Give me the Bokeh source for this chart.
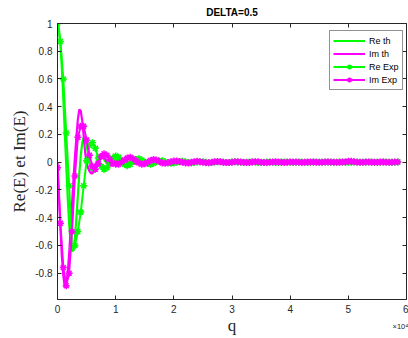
import numpy as np
from bokeh.plotting import figure
from bokeh.models import (LinearAxis, Range1d, FixedTicker, Legend, LegendItem,
                          Label, CustomJSTickFormatter)
from bokeh.embed import file_html
from bokeh.resources import INLINE

# ---------------- data ----------------
q_th = list(range(0, 10001, 250)) + list(range(10500, 20001, 500)) + list(range(21000, 58001, 1000))
re_th = [1.0, 0.96, 0.85, 0.68, 0.46, 0.22, -0.02, -0.25, -0.44, -0.58, -0.645, -0.63, -0.54, -0.4,
         -0.24, -0.08, 0.05, 0.14, 0.18, 0.17, 0.12, 0.06, 0.0, -0.05, -0.07, -0.07, -0.05, -0.02,
         0.01, 0.03, 0.04, 0.035, 0.02, 0.005, -0.01, -0.02, -0.02, -0.015, -0.005, 0.005, 0.012,
         0.018, 0.016, 0.008, -0.002, -0.01, -0.012, -0.008, 0.0, 0.007, 0.009, 0.006, 0.0, -0.005,
         -0.006, -0.004, 0.001, 0.004, 0.005, 0.003, 0.0,
         0.003, -0.003, 0.002, -0.002, 0.002, -0.002, 0.001, -0.001, 0.002, -0.001, 0.001, -0.001,
         0.001, -0.001, 0.001, -0.001, 0.001, 0.0, -0.001, 0.001, 0.0, -0.001, 0.001, 0.0, -0.001,
         0.001, 0.0, 0.0, 0.001, 0.0, -0.001, 0.0, 0.001, 0.0, -0.001, 0.0, 0.001, 0.0]
im_th = [0.0, -0.24, -0.48, -0.68, -0.82, -0.9, -0.88, -0.8, -0.66, -0.49, -0.3, -0.12, 0.04, 0.18,
         0.31, 0.38, 0.37, 0.3, 0.19, 0.07, 0.0, -0.04, -0.065, -0.08, -0.08, -0.065, -0.03, 0.0,
         0.03, 0.05, 0.06, 0.055, 0.04, 0.02, 0.0, -0.015, -0.025, -0.025, -0.02, -0.01, 0.0,
         0.01, 0.017, 0.015, 0.007, -0.003, -0.01, -0.011, -0.006, 0.002, 0.008, 0.009, 0.004,
         -0.002, -0.006, -0.005, -0.001, 0.003, 0.005, 0.003, 0.0,
         -0.003, 0.003, -0.002, 0.002, -0.002, 0.002, -0.001, 0.001, -0.002, 0.001, -0.001, 0.001,
         -0.001, 0.001, -0.001, 0.001, 0.0, -0.001, 0.001, 0.0, -0.001, 0.001, 0.0, -0.001, 0.001,
         0.0, 0.0, -0.001, 0.0, 0.001, 0.0, -0.001, 0.0, 0.001, 0.0, -0.001, 0.0, 0.001]

q_exp = list(range(0, 58501, 500))
re_exp = [1.0, 0.87, 0.6, 0.21, -0.17, -0.62, -0.6, -0.5, -0.36, -0.17, 0.01, 0.12, 0.14, 0.1,
          0.03, -0.03, -0.05, -0.04, 0.0, 0.03, 0.045, 0.035, 0.01, -0.015, -0.025, -0.015, 0.005,
          0.02, 0.025, 0.015, 0.0, -0.01, -0.015, -0.008, 0.004, 0.01, 0.01, 0.004, -0.004, -0.007,
          -0.005, 0.0, 0.004, 0.006, 0.003, -0.002, -0.005, -0.003, 0.002, 0.004, 0.003, -0.001,
          -0.004, -0.003, 0.001, 0.003, 0.003, 0.0, -0.003, -0.002,
          0.001, 0.003, 0.002, -0.001, -0.003, -0.001, 0.002, 0.003, 0.001, -0.002, -0.002, 0.0,
          0.002, 0.002, 0.0, -0.002, -0.002, 0.001, 0.002, 0.001,
          -0.001, -0.002, 0.0, 0.002, 0.001, -0.001, -0.002, 0.0, 0.002, 0.001, -0.001, -0.001,
          0.001, 0.002, 0.0, -0.001, -0.001, 0.001, 0.001, 0.0,
          -0.001, -0.001, 0.001, 0.001, 0.0, -0.001, 0.0, 0.001, 0.001, 0.0, -0.001, 0.0, 0.001,
          0.001, 0.0, -0.001, 0.0, 0.001]
im_exp = [-0.04, -0.44, -0.76, -0.89, -0.8, -0.5, -0.1, 0.18, 0.26, 0.26, 0.16, 0.05, -0.03,
          -0.05, -0.01, 0.04, 0.06, 0.05, 0.02, -0.005, -0.015, -0.015, 0.0, 0.015, 0.03, 0.035,
          0.025, 0.01, -0.005, -0.015, -0.012, 0.0, 0.012, 0.02, 0.015, 0.005, -0.005, -0.008,
          -0.004, 0.003,
          0.008, 0.009, 0.005, -0.001, -0.005, -0.005, -0.001, 0.004, 0.006, 0.004, 0.0, -0.004,
          -0.004, -0.001, 0.003, 0.005, 0.003, -0.001, -0.003, -0.003,
          0.0, 0.003, 0.004, 0.002, -0.001, -0.003, -0.002, 0.001, 0.003, 0.003, 0.0, -0.002,
          -0.002, 0.0, 0.002, 0.003, 0.001, -0.001, -0.002, -0.001,
          0.001, 0.002, 0.002, 0.0, -0.002, -0.001, 0.001, 0.002, 0.002, 0.0, -0.001, -0.001,
          0.001, 0.002, 0.001, 0.0, -0.001, 0.0, 0.001, 0.002,
          0.006, 0.007, 0.004, 0.0, -0.001, 0.0, 0.001, 0.001, 0.0, -0.001, 0.0, 0.001, 0.001,
          0.0, -0.001, 0.0, 0.001, 0.001]

x_ticks = [0, 10000, 20000, 30000, 40000, 50000, 60000]
y_ticks = [-0.8, -0.6, -0.4, -0.2, 0, 0.2, 0.4, 0.6, 0.8, 1.0]
series_names = ["Re th", "Im th", "Re Exp", "Im Exp"]
title_text = "DELTA=0.5"
mult_text = "×10⁴"

GREEN = "#00ff00"
MAGENTA = "#ff00ff"
AX = "#262626"
SANS = "Liberation Sans"
SERIF = "Liberation Serif"

W, H = 408, 338
BL, BR, BT, BB = 57, 2, 23, 39

p = figure(width=W, height=H, output_backend="svg", toolbar_location=None,
           x_range=Range1d(0, 60000), y_range=Range1d(-0.99, 1.0),
           min_border_left=BL, min_border_right=BR, min_border_top=BT, min_border_bottom=BB,
           x_axis_label="q", y_axis_label="Re(E) et Im(E)")
p.title = None
p.xgrid.visible = False
p.ygrid.visible = False
p.outline_line_color = None
p.background_fill_color = "white"
p.border_fill_color = "white"

xfmt = CustomJSTickFormatter(code="return (tick/10000).toFixed(0);")
yfmt = CustomJSTickFormatter(code="if (Math.abs(tick) < 1e-9) return '0'; return (Math.round(tick*10)/10).toString();")
nofmt = CustomJSTickFormatter(code="return '';")

def style(ax, ticks, fmt, show_labels=True):
    ax.ticker = FixedTicker(ticks=ticks)
    ax.formatter = fmt
    ax.axis_line_color = AX
    ax.axis_line_width = 1
    ax.major_tick_line_color = AX
    ax.major_tick_in = 4
    ax.major_tick_out = 0
    ax.minor_tick_line_color = None
    ax.major_label_text_font = SANS
    ax.major_label_text_color = AX
    ax.major_label_text_font_size = "10px" if show_labels else "0px"
    ax.major_label_standoff = 5 if show_labels else 0

style(p.xaxis[0], x_ticks, xfmt)
style(p.yaxis[0], y_ticks, yfmt)
for ax in (p.xaxis[0], p.yaxis[0]):
    ax.axis_label_text_font = SERIF
    ax.axis_label_text_font_size = "17px"
    ax.axis_label_text_font_style = "normal"
    ax.axis_label_text_color = AX
p.xaxis[0].axis_label_standoff = 0
p.yaxis[0].axis_label_standoff = 3

top = LinearAxis()
style(top, x_ticks, nofmt, show_labels=False)
p.add_layout(top, "above")
right = LinearAxis()
style(right, y_ticks, nofmt, show_labels=False)
p.add_layout(right, "right")

r1 = p.line(q_th, re_th, line_color=GREEN, line_width=2.2)
r2 = p.line(q_th, im_th, line_color=MAGENTA, line_width=2.2)
r3l = p.line(q_exp, re_exp, line_color=GREEN, line_width=2)
r3m = p.scatter(q_exp, re_exp, marker="asterisk", size=7, line_color=GREEN, line_width=1.5)
r4l = p.line(q_exp, im_exp, line_color=MAGENTA, line_width=2)
r4m = p.scatter(q_exp, im_exp, marker="asterisk", size=7, line_color=MAGENTA, line_width=1.5)

FW = W - BL - BR
FH = H - BT - BB
LW, LH = 72, 58
legend = Legend(items=[LegendItem(label=series_names[0], renderers=[r1]),
                       LegendItem(label=series_names[1], renderers=[r2]),
                       LegendItem(label=series_names[2], renderers=[r3l, r3m]),
                       LegendItem(label=series_names[3], renderers=[r4l, r4m])],
                location=(FW - 5 - LW, FH - 9 - LH), orientation="vertical")
legend.label_text_font = SANS
legend.label_text_font_size = "9px"
legend.label_text_color = "#000000"
legend.label_height = 13
legend.glyph_height = 13
legend.glyph_width = 32
legend.label_standoff = 4
legend.spacing = 0
legend.padding = 3
legend.margin = 0
legend.border_line_color = AX
legend.border_line_width = 0.6
legend.background_fill_color = "white"
legend.background_fill_alpha = 1
p.add_layout(legend)

# title and axis multiplier as labels in the upper side panel (side-panel labels are not clipped)
title_lbl = Label(x=FW / 2, y=11, x_units="screen", y_units="screen", text=title_text,
                  text_align="center", text_baseline="middle", text_font=SANS,
                  text_font_size="10px", text_font_style="bold", text_color="#000000")
p.add_layout(title_lbl, "above")
exp_lbl = Label(x=FW - 14, y=-314, x_units="screen", y_units="screen", text=mult_text,
                text_align="left", text_baseline="middle",
                text_font=SANS, text_font_size="7.5px", text_color=AX)
p.add_layout(exp_lbl, "above")

open("out.html", "w").write(file_html(p, INLINE))
